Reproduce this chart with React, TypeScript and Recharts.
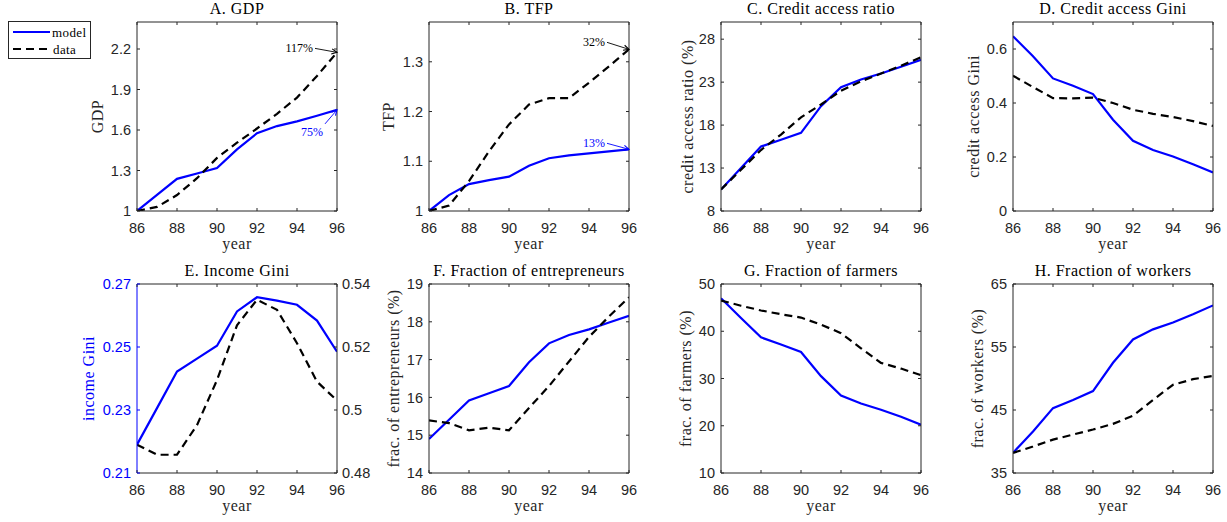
import React from "react";
import { LineChart, Line, XAxis, YAxis, ReferenceDot, Label } from "recharts";

const years = [86, 87, 88, 89, 90, 91, 92, 93, 94, 95, 96];
const yearTicks = [86, 88, 90, 92, 94, 96];

const gdpModel = [1.0, 1.119, 1.238, 1.278, 1.318, 1.456, 1.576, 1.629, 1.664, 1.706, 1.749];
const gdpData = [1.0, 1.03, 1.118, 1.243, 1.393, 1.506, 1.611, 1.72, 1.84, 2.0, 2.175];

const tfpModel = [1.0, 1.032, 1.054, 1.062, 1.069, 1.091, 1.106, 1.112, 1.116, 1.12, 1.124];
const tfpData = [1.0, 1.011, 1.06, 1.12, 1.174, 1.214, 1.227, 1.227, 1.258, 1.291, 1.325];

const creditModel = [10.5, 13.0, 15.5, 16.3, 17.1, 20.2, 22.4, 23.3, 24.0, 24.8, 25.6];
const creditData = [10.5, 12.8, 15.1, 16.9, 18.9, 20.4, 22.0, 23.1, 24.0, 24.9, 25.9];

const creditGiniModel = [0.647, 0.573, 0.491, 0.464, 0.433, 0.338, 0.26, 0.226, 0.202, 0.173, 0.143];
const creditGiniData = [0.501, 0.459, 0.418, 0.417, 0.42, 0.4, 0.375, 0.36, 0.348, 0.333, 0.315];

const incomeGiniModel = [0.219, 0.2306, 0.2422, 0.2463, 0.2504, 0.2613, 0.2658, 0.2647, 0.2634, 0.2584, 0.2485];
const incomeGiniData = [0.489, 0.4858, 0.4858, 0.4952, 0.5095, 0.5269, 0.535, 0.5318, 0.5212, 0.509, 0.503];

const entrepModel = [14.9, 15.41, 15.92, 16.11, 16.3, 16.93, 17.43, 17.65, 17.8, 17.98, 18.16];
const entrepData = [15.39, 15.32, 15.13, 15.2, 15.13, 15.72, 16.3, 16.95, 17.6, 18.14, 18.65];

const farmerModel = [47.0, 42.8, 38.7, 37.2, 35.6, 30.5, 26.4, 24.7, 23.4, 21.9, 20.2];
const farmerData = [46.5, 45.4, 44.4, 43.6, 42.9, 41.4, 39.6, 36.4, 33.3, 32.1, 30.7];

const workerModel = [38.2, 41.6, 45.3, 46.6, 48.0, 52.5, 56.2, 57.8, 58.9, 60.2, 61.6];
const workerData = [38.2, 39.2, 40.3, 41.1, 41.9, 42.8, 44.1, 46.6, 49.0, 49.9, 50.4];

const BLUE = "#0000FF";
const AX = "#262626";
const SERIF = "'Liberation Serif', 'Times New Roman', serif";
const SANS = "'Liberation Sans', Arial, sans-serif";
const DASH = "8 5";

const bottomTick = (props: any) => {
  const { x, y, payload } = props;
  return (
    <g>
      <line x1={x} x2={x} y1={y} y2={y - 3} stroke={AX} />
      <text x={x} y={y + 22} textAnchor="middle" fill={AX} fontFamily={SANS} fontSize={14.5}>
        {payload.value}
      </text>
    </g>
  );
};

const topTick = (props: any) => {
  const { x, y } = props;
  return <line x1={x} x2={x} y1={y} y2={y + 3} stroke={AX} />;
};

const leftTick = (color: string) => (props: any) => {
  const { x, y, payload } = props;
  return (
    <g>
      <line x1={x} x2={x + 3} y1={y} y2={y} stroke={color} />
      <text x={x - 6} y={y} dy="0.36em" textAnchor="end" fill={color} fontFamily={SANS} fontSize={14.5}>
        {payload.value}
      </text>
    </g>
  );
};

const rightTick = (labels: boolean) => (props: any) => {
  const { x, y, payload } = props;
  return (
    <g>
      <line x1={x} x2={x - 3} y1={y} y2={y} stroke={AX} />
      {labels && (
        <text x={x + 5} y={y} dy="0.36em" textAnchor="start" fill={AX} fontFamily={SANS} fontSize={14.5}>
          {payload.value}
        </text>
      )}
    </g>
  );
};

type Note = {
  value: number;
  text: string;
  color: string;
  tx: number;
  ty: number;
  anchor: "start" | "middle" | "end";
  from: [number, number];
};

const noteShape = (n: Note) => (props: any) => {
  const { cx, cy } = props;
  const x1 = cx + n.from[0];
  const y1 = cy + n.from[1];
  const a = Math.atan2(cy - y1, cx - x1);
  const h = 6;
  const p1 = [cx - h * Math.cos(a - 0.45), cy - h * Math.sin(a - 0.45)];
  const p2 = [cx - h * Math.cos(a + 0.45), cy - h * Math.sin(a + 0.45)];
  return (
    <g>
      <line x1={x1} y1={y1} x2={cx} y2={cy} stroke={n.color} strokeWidth={0.9} />
      <path d={`M${p1[0]},${p1[1]} L${cx},${cy} L${p2[0]},${p2[1]}`} fill="none" stroke={n.color} strokeWidth={1.1} />
      <text x={cx + n.tx} y={cy + n.ty} dy="0.35em" textAnchor={n.anchor} fill={n.color} fontFamily={SERIF} fontSize={12}>
        {n.text}
      </text>
    </g>
  );
};

type PanelProps = {
  left: number;
  top: number;
  title: string;
  ylabel: string;
  ylabelGap: number;
  domain: [number, number];
  ticks: number[];
  model: number[];
  data: number[];
  leftColor?: string;
  rightDomain?: [number, number];
  rightTicks?: number[];
  notes?: Note[];
};

function Panel(p: PanelProps) {
  const rows = years.map((year, i) => ({ year, model: p.model[i], data: p.data[i] }));
  const leftColor = p.leftColor ?? AX;
  const hasRight = !!p.rightDomain;
  return (
    <div style={{ position: "absolute", left: p.left - 70, top: p.top - 30 }}>
      <div
        style={{
          position: "absolute",
          left: 70 - 20,
          width: 240,
          top: 30 - 22,
          textAlign: "center",
          fontFamily: SERIF,
          fontSize: 16,
          letterSpacing: 0.5,
          lineHeight: "18px",
          color: "#000",
          whiteSpace: "nowrap",
        }}
      >
        {p.title}
      </div>
      <LineChart width={320} height={269} data={rows} margin={{ top: 29, right: 10, bottom: 5, left: 0 }}>
        <XAxis
          xAxisId="b"
          dataKey="year"
          type="number"
          domain={[86, 96]}
          ticks={yearTicks}
          interval={0}
          allowDataOverflow
          tickSize={0}
          tickMargin={0}
          tickLine={false}
          axisLine={{ stroke: AX }}
          height={45}
          tick={bottomTick}
        >
          <Label
            content={(lp: any) => {
              const vb = lp.viewBox;
              return (
                <text x={vb.x + vb.width / 2} y={vb.y + 38} textAnchor="middle" fill={AX} fontFamily={SERIF} fontSize={16} letterSpacing={0.5}>
                  year
                </text>
              );
            }}
          />
        </XAxis>
        <XAxis
          xAxisId="t"
          orientation="top"
          dataKey="year"
          type="number"
          domain={[86, 96]}
          ticks={yearTicks}
          interval={0}
          allowDataOverflow
          tickSize={0}
          tickMargin={0}
          tickLine={false}
          axisLine={{ stroke: AX }}
          height={1}
          tick={topTick}
        />
        <YAxis
          yAxisId="l"
          type="number"
          domain={p.domain}
          ticks={p.ticks}
          interval={0}
          allowDataOverflow
          tickSize={0}
          tickMargin={0}
          tickLine={false}
          axisLine={{ stroke: leftColor }}
          width={70}
          tick={leftTick(leftColor)}
        >
          <Label
            content={(lp: any) => {
              const vb = lp.viewBox;
              const x = vb.x + vb.width - p.ylabelGap;
              const y = vb.y + vb.height / 2;
              return (
                <text
                  x={x}
                  y={y}
                  transform={`rotate(-90, ${x}, ${y})`}
                  textAnchor="middle"
                  dominantBaseline="central"
                  fill={p.leftColor ?? AX}
                  fontFamily={SERIF}
                  fontSize={16}
                  letterSpacing={0.5}
                >
                  {p.ylabel}
                </text>
              );
            }}
          />
        </YAxis>
        <YAxis
          yAxisId="r"
          orientation="right"
          type="number"
          domain={p.rightDomain ?? p.domain}
          ticks={p.rightTicks ?? p.ticks}
          interval={0}
          allowDataOverflow
          tickSize={0}
          tickMargin={0}
          tickLine={false}
          axisLine={{ stroke: AX }}
          width={40}
          tick={rightTick(hasRight)}
        />
        <Line
          xAxisId="b"
          yAxisId="l"
          type="linear"
          dataKey="model"
          stroke={BLUE}
          strokeWidth={2.2}
          dot={false}
          activeDot={false}
          isAnimationActive={false}
        />
        <Line
          xAxisId="t"
          yAxisId="r"
          type="linear"
          dataKey="data"
          stroke="#000"
          strokeWidth={2.2}
          strokeDasharray={DASH}
          dot={false}
          activeDot={false}
          isAnimationActive={false}
        />
        {(p.notes ?? []).map((n) => (
          <ReferenceDot
            key={n.text}
            xAxisId="b"
            yAxisId="l"
            x={96}
            y={n.value}
            r={0}
            ifOverflow="visible"
            shape={noteShape(n)}
          />
        ))}
      </LineChart>
    </div>
  );
}

const cols = [137, 429, 721, 1013];
const rowsTop = [22, 284];

export default function App() {
  return (
    <div style={{ position: "fixed", left: 0, top: 0, width: 1227, height: 522, background: "#fff", overflow: "hidden" }}>
      <Panel
        left={cols[0]}
        top={rowsTop[0]}
        title="A. GDP"
        ylabel="GDP"
        ylabelGap={40}
        domain={[1, 2.4]}
        ticks={[1, 1.3, 1.6, 1.9, 2.2]}
        model={gdpModel}
        data={gdpData}
        notes={[
          { value: gdpData[10], text: "117%", color: "#000", tx: -24, ty: -5, anchor: "end", from: [-22, -4] },
          { value: gdpModel[10], text: "75%", color: BLUE, tx: -25, ty: 22, anchor: "middle", from: [-12, 14] },
        ]}
      />
      <Panel
        left={cols[1]}
        top={rowsTop[0]}
        title="B. TFP"
        ylabel="TFP"
        ylabelGap={41}
        domain={[1, 1.38]}
        ticks={[1, 1.1, 1.2, 1.3]}
        model={tfpModel}
        data={tfpData}
        notes={[
          { value: tfpData[10], text: "32%", color: "#000", tx: -24, ty: -8, anchor: "end", from: [-22, -7] },
          { value: tfpModel[10], text: "13%", color: BLUE, tx: -24, ty: -7, anchor: "end", from: [-22, -6] },
        ]}
      />
      <Panel
        left={cols[2]}
        top={rowsTop[0]}
        title="C. Credit access ratio"
        ylabel="credit access ratio (%)"
        ylabelGap={34}
        domain={[8, 30]}
        ticks={[8, 13, 18, 23, 28]}
        model={creditModel}
        data={creditData}
      />
      <Panel
        left={cols[3]}
        top={rowsTop[0]}
        title="D. Credit access Gini"
        ylabel="credit access Gini"
        ylabelGap={40}
        domain={[0, 0.7]}
        ticks={[0, 0.2, 0.4, 0.6]}
        model={creditGiniModel}
        data={creditGiniData}
      />
      <Panel
        left={cols[0]}
        top={rowsTop[1]}
        title="E. Income Gini"
        ylabel="income Gini"
        ylabelGap={49}
        leftColor={BLUE}
        domain={[0.21, 0.27]}
        ticks={[0.21, 0.23, 0.25, 0.27]}
        rightDomain={[0.48, 0.54]}
        rightTicks={[0.48, 0.5, 0.52, 0.54]}
        model={incomeGiniModel}
        data={incomeGiniData}
      />
      <Panel
        left={cols[1]}
        top={rowsTop[1]}
        title="F. Fraction of entrepreneurs"
        ylabel="frac. of entrepreneurs (%)"
        ylabelGap={36}
        domain={[14, 19]}
        ticks={[14, 15, 16, 17, 18, 19]}
        model={entrepModel}
        data={entrepData}
      />
      <Panel
        left={cols[2]}
        top={rowsTop[1]}
        title="G. Fraction of farmers"
        ylabel="frac. of farmers (%)"
        ylabelGap={36}
        domain={[10, 50]}
        ticks={[10, 20, 30, 40, 50]}
        model={farmerModel}
        data={farmerData}
      />
      <Panel
        left={cols[3]}
        top={rowsTop[1]}
        title="H. Fraction of workers"
        ylabel="frac. of workers (%)"
        ylabelGap={36}
        domain={[35, 65]}
        ticks={[35, 45, 55, 65]}
        model={workerModel}
        data={workerData}
      />
      <div
        style={{
          position: "absolute",
          left: 8,
          top: 21,
          width: 83,
          height: 38,
          border: `1px solid ${AX}`,
          boxSizing: "border-box",
          background: "#fff",
        }}
      >
        <svg width={81} height={36} style={{ display: "block" }}>
          <line x1={4} x2={41} y1={10} y2={10} stroke={BLUE} strokeWidth={2.2} />
          <text x={43} y={10} dy="0.35em" fontFamily={SERIF} fontSize={13} letterSpacing={0.4} fill="#000">
            model
          </text>
          <line x1={4} x2={41} y1={27} y2={27} stroke="#000" strokeWidth={2.2} strokeDasharray={DASH} />
          <text x={44} y={27} dy="0.35em" fontFamily={SERIF} fontSize={13} letterSpacing={0.4} fill="#000">
            data
          </text>
        </svg>
      </div>
    </div>
  );
}
